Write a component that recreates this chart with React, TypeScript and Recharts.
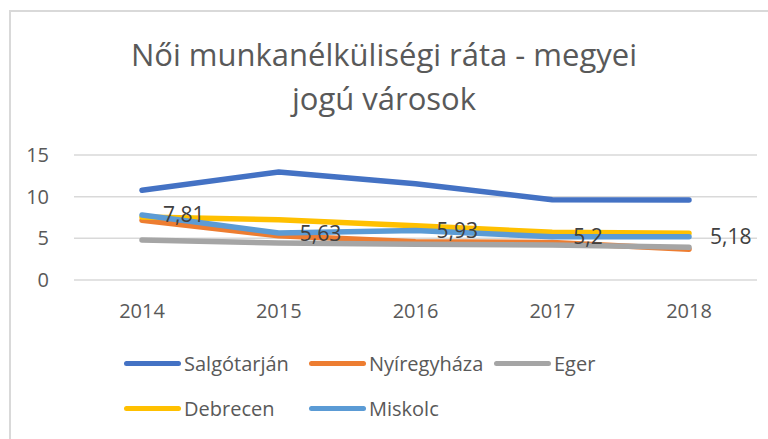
import React from "react";
import { LineChart, Line, XAxis, YAxis, CartesianGrid, LabelList } from "recharts";

const years = ["2014", "2015", "2016", "2017", "2018"];
const salgotarjan = [10.76, 12.96, 11.56, 9.64, 9.6];
const nyiregyhaza = [7.16, 5.3, 4.6, 4.5, 3.7];
const eger = [4.8, 4.44, 4.3, 4.2, 3.92];
const debrecen = [7.56, 7.24, 6.5, 5.72, 5.6];
const miskolc = [7.81, 5.63, 5.93, 5.2, 5.18];
const yTicks = [0, 5, 10, 15];

const SERIES = [
  { name: "Salgótarján", values: salgotarjan, color: "#4472C4" },
  { name: "Nyíregyháza", values: nyiregyhaza, color: "#ED7D31" },
  { name: "Eger", values: eger, color: "#A5A5A5" },
  { name: "Debrecen", values: debrecen, color: "#FFC000" },
  { name: "Miskolc", values: miskolc, color: "#5B9BD5" },
];

const FONT = "'Open Sans', sans-serif";

const data = years.map((year, i) => {
  const row: Record<string, string | number> = { year };
  SERIES.forEach((s) => {
    row[s.name] = s.values[i];
  });
  return row;
});

export default function App() {
  return (
    <div
      style={{
        position: "absolute",
        left: 0,
        top: 0,
        width: 768,
        height: 439,
        overflow: "hidden",
        background: "#fff",
        fontFamily: FONT,
      }}
    >
      <div
        style={{
          position: "absolute",
          left: 9,
          top: 10,
          width: 820,
          height: 500,
          border: "2px solid #d9d9d9",
        }}
      />
      <div
        style={{
          position: "absolute",
          left: 0,
          top: 32,
          width: 768,
          textAlign: "center",
          fontSize: 31,
          lineHeight: "44px",
          color: "#595959",
        }}
      >
        Női munkanélküliségi ráta - megyei
        <br />
        jogú városok
      </div>
      <div style={{ position: "absolute", left: 0, top: 0 }}>
        <LineChart
          width={768}
          height={439}
          data={data}
          margin={{ top: 155, right: 11, bottom: 129, left: 0 }}
        >
          <CartesianGrid vertical={false} stroke="#d9d9d9" strokeWidth={1.5} />
          <XAxis
            dataKey="year"
            axisLine={false}
            tickLine={false}
            tickSize={0}
            tickMargin={24}
            height={30}
            padding={{ left: 68, right: 68 }}
            tick={{ fill: "#595959", fontSize: 20, fontFamily: FONT }}
          />
          <YAxis
            width={74}
            domain={[0, 15]}
            ticks={yTicks}
            axisLine={false}
            tickLine={false}
            tickSize={0}
            tickMargin={25}
            tick={{ fill: "#595959", fontSize: 20, fontFamily: FONT }}
          />
          {SERIES.map((s) => (
            <Line
              key={s.name}
              dataKey={s.name}
              stroke={s.color}
              strokeWidth={5.5}
              strokeLinecap="round"
              strokeLinejoin="round"
              dot={false}
              activeDot={false}
              isAnimationActive={false}
            >
              {s.name === "Miskolc" && (
                <LabelList
                  dataKey={s.name}
                  position="right"
                  offset={21}
                  fill="#404040"
                  fontSize={21}
                  fontFamily={FONT}
                  formatter={(v: any) => String(v).replace(".", ",")}
                />
              )}
            </Line>
          ))}
        </LineChart>
      </div>
      <div
        style={{
          position: "absolute",
          left: 124,
          top: 341,
          width: 570,
          display: "flex",
          flexWrap: "wrap",
        }}
      >
        {SERIES.map((s) => (
          <div
            key={s.name}
            style={{ width: 185, height: 45, display: "flex", alignItems: "center" }}
          >
            <span
              style={{
                display: "inline-block",
                width: 57,
                height: 5,
                borderRadius: 3,
                background: s.color,
                marginRight: 3,
              }}
            />
            <span style={{ fontSize: 20, color: "#595959", whiteSpace: "nowrap" }}>{s.name}</span>
          </div>
        ))}
      </div>
    </div>
  );
}
